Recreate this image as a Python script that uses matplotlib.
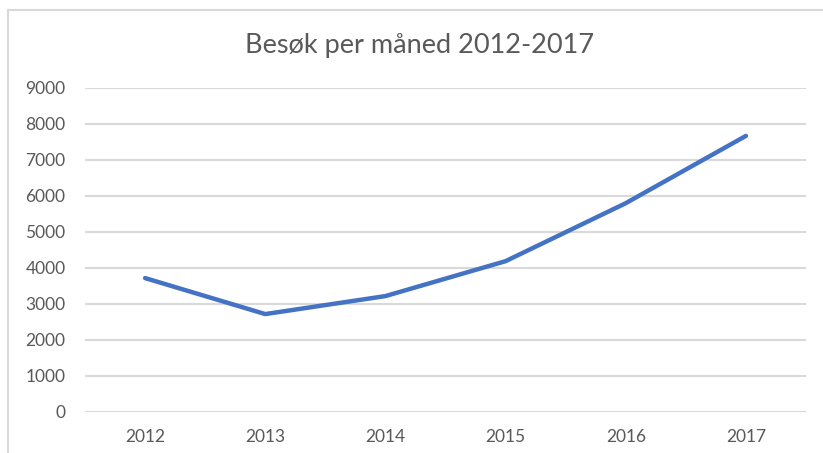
import matplotlib
matplotlib.use("Agg")
import matplotlib.pyplot as plt
from matplotlib.lines import Line2D

aar = ["2012", "2013", "2014", "2015", "2016", "2017"]
besok = [3720, 2720, 3220, 4190, 5800, 7670]
yticks = [0, 1000, 2000, 3000, 4000, 5000, 6000, 7000, 8000, 9000]

plt.rcParams['font.family'] = ['Lato', 'DejaVu Sans']
tekstfarge = '#595959'

fig = plt.figure(figsize=(8.23, 4.53), dpi=100)
W, H = 823, 453
ax = fig.add_axes([85 / W, (H - 412) / H, (806 - 85) / W, (412 - 88) / H])

x = range(len(aar))
ax.plot(x, besok, color='#4472C4', linewidth=3.2, solid_capstyle='round', solid_joinstyle='round')

ax.set_xlim(-0.5, len(aar) - 0.5)
ax.set_ylim(0, 9000)
ax.set_xticks(list(x))
ax.set_xticklabels(aar)
ax.set_yticks(yticks)
ax.set_yticklabels([str(v) for v in yticks])
ax.tick_params(length=0, labelsize=12.5, colors=tekstfarge)
ax.tick_params(axis='y', pad=14)
ax.tick_params(axis='x', pad=12)
ax.grid(axis='y', color='#D9D9D9', linewidth=1.5)
ax.set_axisbelow(True)
for s in ax.spines.values():
    s.set_visible(False)

fig.text(420 / W, 1 - 46 / H, "Besøk per måned 2012-2017", ha='center', va='center',
         fontsize=19.5, color=tekstfarge)

# ramme rundt diagrammet (bare topp og venstre synlig)
fig.add_artist(Line2D([8 / W, 822 / W], [1 - 10 / H, 1 - 10 / H], color='#D9D9D9', linewidth=1.5))
fig.add_artist(Line2D([8 / W, 8 / W], [0, 1 - 10 / H], color='#D9D9D9', linewidth=1.5))

fig.savefig("out.png", dpi=100)
